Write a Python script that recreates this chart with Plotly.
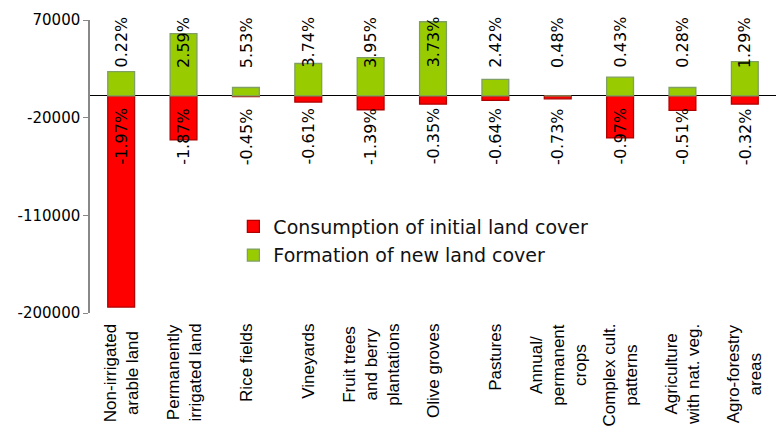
import numpy as np
import plotly.graph_objects as go

# Land cover classes (category labels, line breaks as displayed)
categories = [
    "Non-irrigated<br>arable land",
    "Permanently<br>irrigated land",
    "Rice fields",
    "Vineyards",
    "Fruit trees<br>and berry<br>plantations",
    "Olive groves",
    "Pastures",
    "Annual/<br>permanent<br>crops",
    "Complex cult.<br>patterns",
    "Agriculture<br>with nat. veg.",
    "Agro-forestry<br>areas",
]

# Area flows (ha)
consumption = [-194500, -40500, -600, -5600, -12700, -7500, -4100, -2600, -38700, -13300, -7500]
formation = [22500, 57400, 7800, 29900, 35400, 68400, 15200, 0, 17300, 7800, 31700]

# Percentage labels
consumption_pct = ["-1.97%", "-1.87%", "-0.45%", "-0.61%", "-1.39%", "-0.35%",
                   "-0.64%", "-0.73%", "-0.97%", "-0.51%", "-0.32%"]
formation_pct = ["0.22%", "2.59%", "5.53%", "3.74%", "3.95%", "3.73%",
                 "2.42%", "0.48%", "0.43%", "0.28%", "1.29%"]

# Value axis ticks
y_tickvals = [-200000, -110000, -20000, 70000]
y_ticktext = ["-200000", "-110000", "-20000", "70000"]

x_idx = list(range(len(categories)))
label_font = dict(family="DejaVu Sans", size=16, color="black")

fig = go.Figure()
fig.add_trace(go.Bar(
    x=x_idx, y=consumption, name="Consumption of initial land cover",
    marker=dict(color="#FF0000", line=dict(color="#B00000", width=1.3)),
    width=0.43, legendgroup="a",
))
fig.add_trace(go.Bar(
    x=x_idx, y=formation, name="Formation of new land cover",
    marker=dict(color="#99CC00", line=dict(color="#7F9F66", width=1.3)),
    width=0.43, legendgroup="b",
))

annotations = []
for i in x_idx:
    # percentage of formation above the axis, consumption below it
    annotations.append(dict(
        x=i, y=25000, xref="x", yref="y", text=formation_pct[i],
        textangle=-90, showarrow=False, yanchor="bottom", xanchor="center",
        font=label_font, borderpad=0,
    ))
    annotations.append(dict(
        x=i, y=-10000, xref="x", yref="y", text=consumption_pct[i],
        textangle=-90, showarrow=False, yanchor="top", xanchor="center",
        font=label_font, borderpad=0,
    ))
    # category name under the plot, lines centred on each other
    annotations.append(dict(
        x=i, y=0, xref="x", yref="paper", yshift=-10, text=categories[i],
        textangle=-90, showarrow=False, yanchor="top", xanchor="center",
        align="center", borderpad=0,
        font=dict(family="Liberation Sans", size=17, color="black"),
    ))

fig.update_layout(
    width=776, height=439,
    margin=dict(l=90, r=0, t=20, b=126),
    barmode="relative",
    plot_bgcolor="white", paper_bgcolor="white",
    showlegend=True,
    legend=dict(
        x=0.209, y=0.36, xanchor="left", yanchor="top",
        font=dict(family="DejaVu Sans", size=19, color="#111111"),
        traceorder="grouped", tracegroupgap=1,
        bgcolor="rgba(0,0,0,0)",
    ),
    annotations=annotations,
    xaxis=dict(
        range=[-0.5, len(categories) - 0.5],
        showticklabels=False, showline=False, showgrid=False, zeroline=False,
        ticks="",
    ),
    xaxis2=dict(
        overlaying="x", anchor="free", position=200000 / 270000, side="bottom",
        range=[-0.5, len(categories) - 0.5],
        tickmode="array", tickvals=list(np.arange(0.5, len(categories) - 1, 1.0)),
        showticklabels=False, ticks="outside", ticklen=5, tickcolor="#555555",
        showline=False, showgrid=False, zeroline=False,
    ),
    yaxis=dict(
        range=[-200000, 70000], tickmode="array",
        tickvals=y_tickvals, ticktext=y_ticktext,
        showgrid=False, showline=True, linecolor="#888888", linewidth=1.5,
        ticks="outside", ticklen=5, tickcolor="#888888",
        zeroline=True, zerolinecolor="black", zerolinewidth=1,
        tickfont=dict(family="DejaVu Sans", size=15, color="black"),
    ),
)

fig.write_html("out.html")
